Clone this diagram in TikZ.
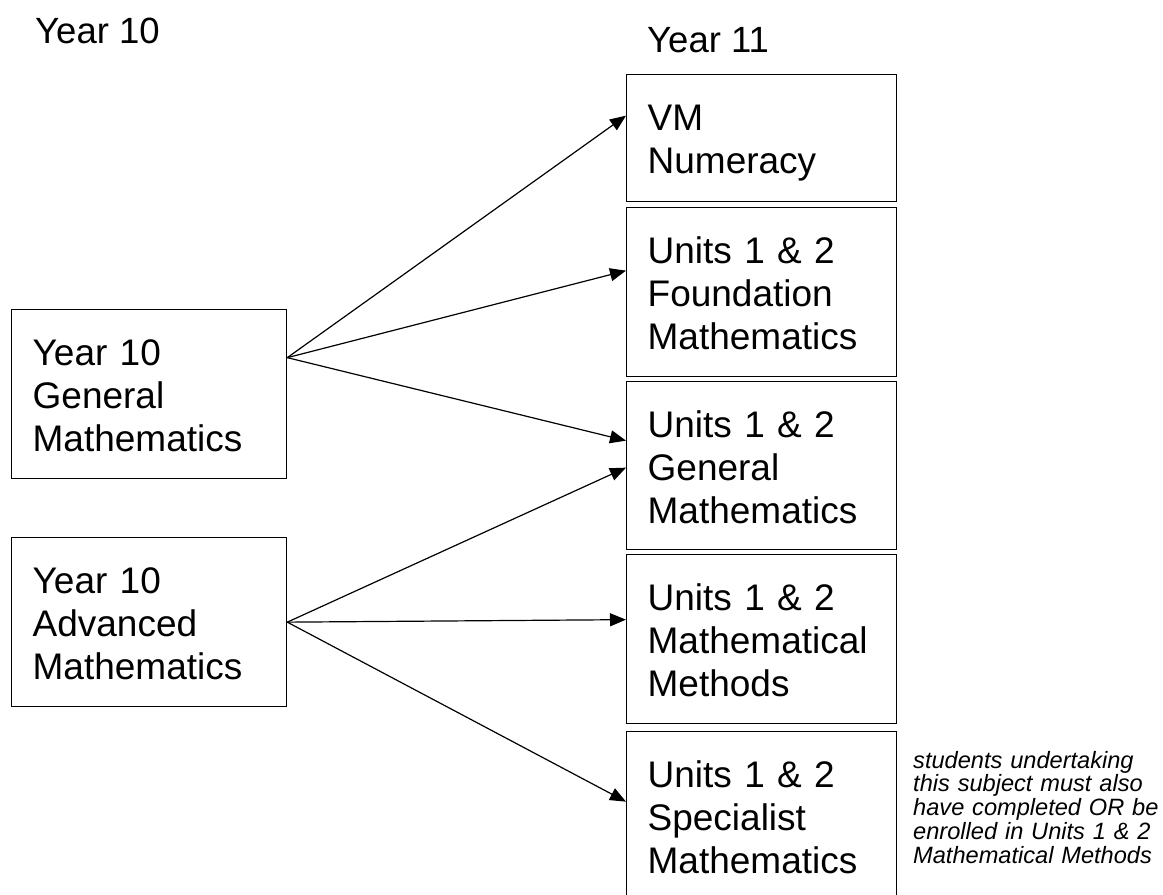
\documentclass[tikz,border=0pt]{standalone}
\usepackage{fontspec}
\setmainfont{Liberation Sans}
\usetikzlibrary{arrows.meta}

\tikzset{
  subject/.style={draw, line width=1.3pt, anchor=north west, align=left,
    inner xsep=21pt, inner ysep=0pt, text height=56pt,
    font=\fontsize{37}{43}\selectfont},
  yten/.style={subject, text width=233pt},
  yeleven/.style={subject, text width=228pt},
  heading/.style={anchor=base west, inner sep=0pt, font=\fontsize{36.5}{43}\selectfont},
  note/.style={anchor=base west, inner sep=0pt, align=left, text width=250pt,
    font=\fontsize{23.6}{23.75}\selectfont\itshape},
}

\begin{document}
\begin{tikzpicture}[x=1pt, y=-1pt]
  \useasboundingbox (0,0) rectangle (1163,895);

  \node[heading] (h10) at (35,43) {Year 10};
  \node[heading] (h11) at (647,52) {Year 11};

  % year 10 subjects
  \node[yten, text depth=113pt] (gen) at (11,309) {Year 10\\General\\Mathematics};
  \node[yten, text depth=113pt] (adv) at (11,537) {Year 10\\Advanced\\Mathematics};

  % year 11 subjects
  \node[yeleven, text depth=71pt]  (vm)  at (626,74)  {VM\\Numeracy};
  \node[yeleven, text depth=113pt] (fnd) at (626,207) {Units 1 \& 2\\Foundation\\Mathematics};
  \node[yeleven, text depth=112pt] (gm)  at (626,381) {Units 1 \& 2\\General\\Mathematics};
  \node[yeleven, text depth=113pt] (mm)  at (626,554) {Units 1 \& 2\\Mathematical\\Methods};
  \node[yeleven, text depth=113pt] (sm)  at (626,731) {Units 1 \& 2\\Specialist\\Mathematics};

  \node[note] (nt) at (913,768) {students undertaking\\this subject must also\\have completed OR be\\enrolled in Units 1 \& 2\\Mathematical Methods};

  \path[-{Triangle[length=16pt,width=13pt]}, line width=1.2pt]
    ([yshift=36.5pt]gen.east) edge ([yshift=22.5pt]vm.west)
                              edge ([yshift=21.5pt]fnd.west)
                              edge ([yshift=25pt]gm.west)
    (adv.east) edge ([yshift=-2pt]gm.west)
               edge ([yshift=19.5pt]mm.west)
               edge ([yshift=14.5pt]sm.west);
\end{tikzpicture}
\end{document}
